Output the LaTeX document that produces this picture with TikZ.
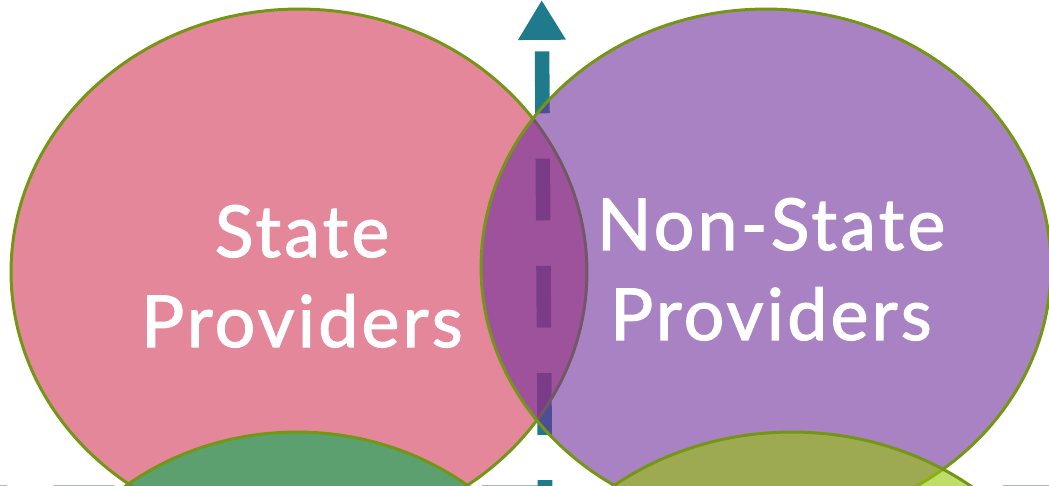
\documentclass[tikz,border=0pt]{standalone}
\usepackage{fontspec}
\newfontfamily\labelfont[LetterSpace=4.5, FakeBold=1.6]{Lato}
\usetikzlibrary{shapes.geometric, arrows.meta, positioning}
\definecolor{stateFill}{RGB}{212,55,88}
\definecolor{nonStateFill}{RGB}{112,47,157}
\definecolor{mixedFill}{RGB}{0,177,80}
\definecolor{hybridFill}{RGB}{150,197,5}
\definecolor{setLine}{RGB}{115,150,20}
\definecolor{axisTeal}{RGB}{31,122,140}
\definecolor{stripLine}{RGB}{160,188,198}
\tikzset{%
  % sets are drawn as see-through ellipses
            setShape/.style = {ellipse, draw=setLine, line width=1.7pt,
                               fill opacity=0.6, inner sep=0pt},
            setLabel/.style = {anchor=base, inner sep=0pt, text=white,
                               font=\labelfont\fontsize{40.8}{51}\selectfont},
            axisArrow/.style = {draw=axisTeal, line width=8.3pt,
                                dash pattern=on 35.2pt off 25.8pt, dash phase=53pt,
                                {Triangle[width=25.6pt, length=22.7pt]}-},
 }

\begin{document}
\begin{tikzpicture}[x=0.02cm, y=-0.02cm]
  \useasboundingbox (0,0) rectangle (1049,486);
  % edges of the boxes below, cut off
     \foreach \from/\to in {0/7, 54/114, 482/538, 1003/1049}
       \fill[stripLine] (\from,484.6) rectangle (\to,486);

  % axis behind the sets
     \coordinate (axisTip) at (541.7,0);
     \coordinate (axisFoot) at (545.5,560);
     \draw[axisArrow] (axisTip) -- (axisFoot);

  % the sets
     \node (stateSet) [setShape, fill=stateFill, minimum width=11.52cm, minimum height=10.52cm] at (299,272) {};
     \node (nonStateSet) [setShape, fill=nonStateFill, minimum width=11.4cm, minimum height=10.32cm] at (766,267) {};
     \node (mixedSet) [setShape, fill=mixedFill, minimum width=11.24cm, minimum height=10.4cm] at (297,692) {};
     \node (hybridSet) [setShape, fill=hybridFill, minimum width=11.72cm, minimum height=10.4cm] at (792,692) {};

  % labels
     \node (stateTop) [setLabel] at (302,257) {State};
     \node (stateBottom) [setLabel] at (302,347) {Providers};
     \node (nonStateTop) [setLabel] at (771,250) {Non-State};
     \node (nonStateBottom) [setLabel] at (771,340) {Providers};
\end{tikzpicture}
\end{document}
